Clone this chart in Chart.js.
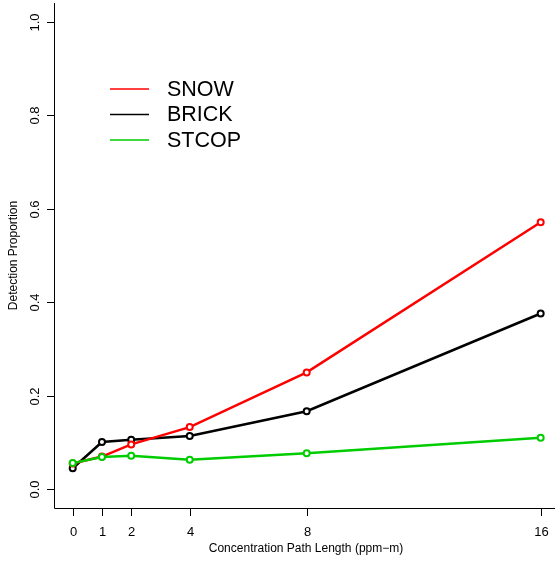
<!DOCTYPE html>
<html>
<head>
<meta charset="utf-8">
<script src="https://cdn.jsdelivr.net/npm/chart.js@4/dist/chart.umd.min.js"></script>
<style>
  body { margin: 0; background: #fff; }
  #wrap { width: 555px; height: 563px; }
</style>
</head>
<body>
<div id="wrap"><canvas id="detChart" width="555" height="563"></canvas></div>
<script>
// Path lengths (ppm-m) and detection proportions per method
const pathLengths = [0, 1, 2, 4, 8, 16];
const snow  = [0.055, 0.070, 0.096, 0.133, 0.250, 0.571];
const brick = [0.045, 0.101, 0.106, 0.114, 0.167, 0.376];
const stcop = [0.056, 0.069, 0.072, 0.063, 0.077, 0.110];

const xTicks = [0, 1, 2, 4, 8, 16];
const yTicks = [0, 0.2, 0.4, 0.6, 0.8, 1.0];
const seriesNames = ['SNOW', 'BRICK', 'STCOP'];
const seriesColors = ['#FF0000', '#000000', '#00CD00'];

const FONT = '"Liberation Sans", Arial, Helvetica, sans-serif';

function toPoints(vals) {
  return pathLengths.map((x, i) => ({ x: x, y: vals[i] }));
}

function makeSet(label, vals, color, order) {
  return {
    label: label,
    data: toPoints(vals),
    borderColor: color,
    borderWidth: 2.5,
    pointRadius: 3,
    pointBorderWidth: 2,
    pointBorderColor: color,
    pointBackgroundColor: '#fff',
    pointHoverRadius: 3,
    showLine: true,
    tension: 0,
    order: order
  };
}

// base-graphics style axes, box and legend drawn from the scales
const axesPlugin = {
  id: 'rAxes',
  afterDraw(chart) {
    const ctx = chart.ctx;
    const xs = chart.scales.x, ys = chart.scales.y;
    const a = chart.chartArea;
    ctx.save();
    ctx.strokeStyle = '#000';
    ctx.lineWidth = 1;

    // L-shaped frame
    ctx.beginPath();
    ctx.moveTo(a.left + 0.5, a.top);
    ctx.lineTo(a.left + 0.5, a.bottom + 0.5);
    ctx.lineTo(a.right, a.bottom + 0.5);
    ctx.stroke();

    ctx.fillStyle = '#000';
    ctx.font = '13px ' + FONT;

    // y ticks and rotated labels
    yTicks.forEach(v => {
      const py = Math.round(ys.getPixelForValue(v)) + 0.5;
      ctx.beginPath();
      ctx.moveTo(a.left - 7, py);
      ctx.lineTo(a.left, py);
      ctx.stroke();
      ctx.save();
      ctx.translate(35, py);
      ctx.rotate(-Math.PI / 2);
      ctx.textAlign = 'center';
      ctx.textBaseline = 'middle';
      ctx.fillText(v.toFixed(1), 0, 0);
      ctx.restore();
    });

    // x ticks and labels
    ctx.textAlign = 'center';
    ctx.textBaseline = 'middle';
    xTicks.forEach(v => {
      const px = Math.round(xs.getPixelForValue(v)) + 0.5;
      ctx.beginPath();
      ctx.moveTo(px, a.bottom);
      ctx.lineTo(px, a.bottom + 8);
      ctx.stroke();
      ctx.fillText(String(v), px, 532);
    });

    // axis titles
    ctx.font = '12px ' + FONT;
    ctx.fillText('Concentration Path Length (ppm\u2212m)', 306, 549);
    ctx.save();
    ctx.translate(14, (a.top + a.bottom) / 2);
    ctx.rotate(-Math.PI / 2);
    ctx.fillText('Detection Proportion', 0, 0);
    ctx.restore();

    // legend
    ctx.font = '21.5px ' + FONT;
    ctx.textAlign = 'left';
    seriesNames.forEach((name, i) => {
      const ly = 89 + i * 25.5;
      ctx.strokeStyle = seriesColors[i];
      ctx.lineWidth = 1.5;
      ctx.beginPath();
      ctx.moveTo(110, ly);
      ctx.lineTo(149, ly);
      ctx.stroke();
      ctx.fillStyle = '#000';
      ctx.fillText(name, 167, ly + 1);
    });
    ctx.restore();
  }
};

new Chart(document.getElementById('detChart').getContext('2d'), {
  type: 'scatter',
  data: {
    datasets: [
      makeSet(seriesNames[0], snow, seriesColors[0], 1),
      makeSet(seriesNames[1], brick, seriesColors[1], 2),
      makeSet(seriesNames[2], stcop, seriesColors[2], 0)
    ]
  },
  options: {
    responsive: false,
    animation: false,
    layout: { autoPadding: false, padding: { left: 54, right: 0, top: 3, bottom: 55 } },
    scales: {
      x: { type: 'linear', display: false, min: -0.64, max: 16.49 },
      y: { type: 'linear', display: false, min: -0.04, max: 1.04 }
    },
    plugins: {
      legend: { display: false },
      tooltip: { enabled: false }
    }
  },
  plugins: [axesPlugin]
});
</script>
</body>
</html>
